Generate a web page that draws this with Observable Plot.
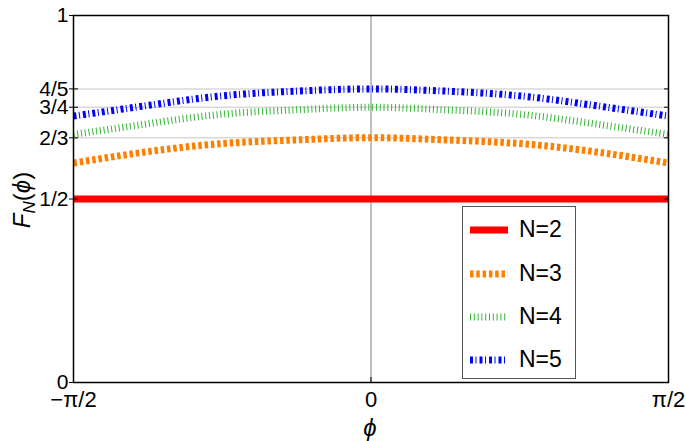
<!DOCTYPE html>
<html><head><meta charset="utf-8">
<script src="https://cdn.jsdelivr.net/npm/d3@7"></script>
<script src="https://cdn.jsdelivr.net/npm/@observablehq/plot@0.6"></script>
<style>
body{margin:0;background:#fff;font-family:"Liberation Sans",Arial,sans-serif;}
#wrap{position:relative;width:686px;height:441px;}
#legend{position:absolute;left:462px;top:206px;width:114px;height:173px;border:1px solid #555;background:#fff;box-sizing:border-box;}
.row{position:absolute;left:0;height:30px;width:100%;}
.row svg{position:absolute;left:7px;top:10px;}
.row span{position:absolute;left:56px;top:1px;font-size:23px;line-height:26px;color:#000;}
</style></head><body><div id="wrap"></div>
<script>
// phi sample positions in units of pi/8
const phiEighths = [-4, -3, -2, -1, 0, 1, 2, 3, 4];
const seriesNames = ["N=2", "N=3", "N=4", "N=5"];
const valuesN2 = [0.5, 0.5, 0.5, 0.5, 0.5, 0.5, 0.5, 0.5, 0.5];
const valuesN3 = [0.598, 0.629, 0.651, 0.661, 0.667, 0.661, 0.651, 0.629, 0.598];
const valuesN4 = [0.676, 0.705, 0.731, 0.743, 0.750, 0.743, 0.731, 0.705, 0.676];
const valuesN5 = [0.726, 0.755, 0.781, 0.794, 0.800, 0.794, 0.781, 0.755, 0.726];
const yTickValues = [0, 1/2, 2/3, 3/4, 4/5, 1];
const yTickLabels = ["0", "1/2", "2/3", "3/4", "4/5", "1"];
const gridValues = [2/3, 3/4, 4/5];
const xTickValues = [-Math.PI/2, 0, Math.PI/2];
const xTickLabels = ["\u2212\u03c0/2", "0", "\u03c0/2"];

const styles = [
  {stroke: "#ff0000", strokeWidth: 7, dash: null},
  {stroke: "#ff8000", strokeWidth: 7, dash: "3.5,2.8"},
  {stroke: "#33b533", strokeWidth: 7, dash: "1,2.8"},
  {stroke: "#0000ff", strokeWidth: 7, dash: "3,2.5,1,3"}
];
const allValues = [valuesN2, valuesN3, valuesN4, valuesN5];
const series = seriesNames.map((name, s) => phiEighths.map((k, i) => ({name, phi: k * Math.PI / 8, F: allValues[s][i]})));

const yFmt = d => yTickLabels[yTickValues.findIndex(v => Math.abs(v - d) < 1e-9)];
const xFmt = d => xTickLabels[xTickValues.findIndex(v => Math.abs(v - d) < 1e-9)];
const font = "'Liberation Sans', Arial, sans-serif";

const plot = Plot.plot({
  width: 686, height: 441,
  marginLeft: 73, marginRight: 18, marginTop: 15, marginBottom: 59,
  x: {domain: [-Math.PI/2, Math.PI/2]},
  y: {domain: [0, 1]},
  style: {fontFamily: font, fontSize: "21px", color: "black", background: "white"},
  marks: [
    Plot.ruleY(gridValues, {stroke: "#d9d9d9", strokeWidth: 1.5}),
    Plot.ruleX([0], {stroke: "#808080", strokeWidth: 1}),
    ...series.map((d, s) => Plot.line(d, {
      x: "phi", y: "F", stroke: styles[s].stroke, strokeWidth: styles[s].strokeWidth,
      strokeDasharray: styles[s].dash, strokeLinecap: "butt", strokeLinejoin: "miter",
      curve: "natural", clip: true
    })),
    Plot.frame({stroke: "black", strokeWidth: 1.5}),
    Plot.axisY({ticks: yTickValues, tickFormat: yFmt, tickSize: 4, tickPadding: 1, label: null, fontSize: 21}),
    Plot.axisY({ticks: yTickValues, tickFormat: () => "", tickSize: 5, dx: 5, label: null}),
    Plot.axisY({anchor: "right", ticks: yTickValues, tickFormat: () => "", tickSize: 5, dx: -5, label: null}),
    Plot.axisX({ticks: xTickValues, tickFormat: xFmt, tickSize: 0, tickPadding: 9, label: null, fontSize: 22}),
    Plot.axisX({ticks: xTickValues, tickFormat: () => "", tickSize: 5, dy: -5, label: null})
  ]
});

const wrap = document.getElementById("wrap");
wrap.appendChild(plot);

const svg = d3.select(plot);
// y label F_N(phi)
const yl = svg.append("text")
  .attr("transform", "translate(30,200) rotate(-90)")
  .attr("text-anchor", "middle")
  .attr("font-family", font).attr("font-size", 24).attr("fill", "black");
yl.append("tspan").attr("font-style", "italic").text("F");
yl.append("tspan").attr("font-style", "italic").attr("font-size", 17).attr("dy", 5).text("N");
yl.append("tspan").attr("dy", -5).text("(");
yl.append("tspan").attr("font-style", "italic").text("\u03d5");
yl.append("tspan").text(")");
// x label
svg.append("text")
  .attr("x", 370).attr("y", 436)
  .attr("text-anchor", "middle")
  .attr("font-family", font).attr("font-size", 24).attr("font-style", "italic").attr("fill", "black")
  .text("\u03d5");

// legend
const legend = document.createElement("div");
legend.id = "legend";
const rowTops = [8, 52, 95, 138];
seriesNames.forEach((name, s) => {
  const row = document.createElement("div");
  row.className = "row";
  row.style.top = rowTops[s] + "px";
  const st = styles[s];
  row.innerHTML = `<svg width="42" height="10"><line x1="0" y1="5" x2="38" y2="5" stroke="${st.stroke}" stroke-width="7" stroke-linecap="butt" ${st.dash ? `stroke-dasharray="${st.dash}"` : ""}/></svg><span>${name}</span>`;
  legend.appendChild(row);
});
wrap.appendChild(legend);
</script>
</body></html>
